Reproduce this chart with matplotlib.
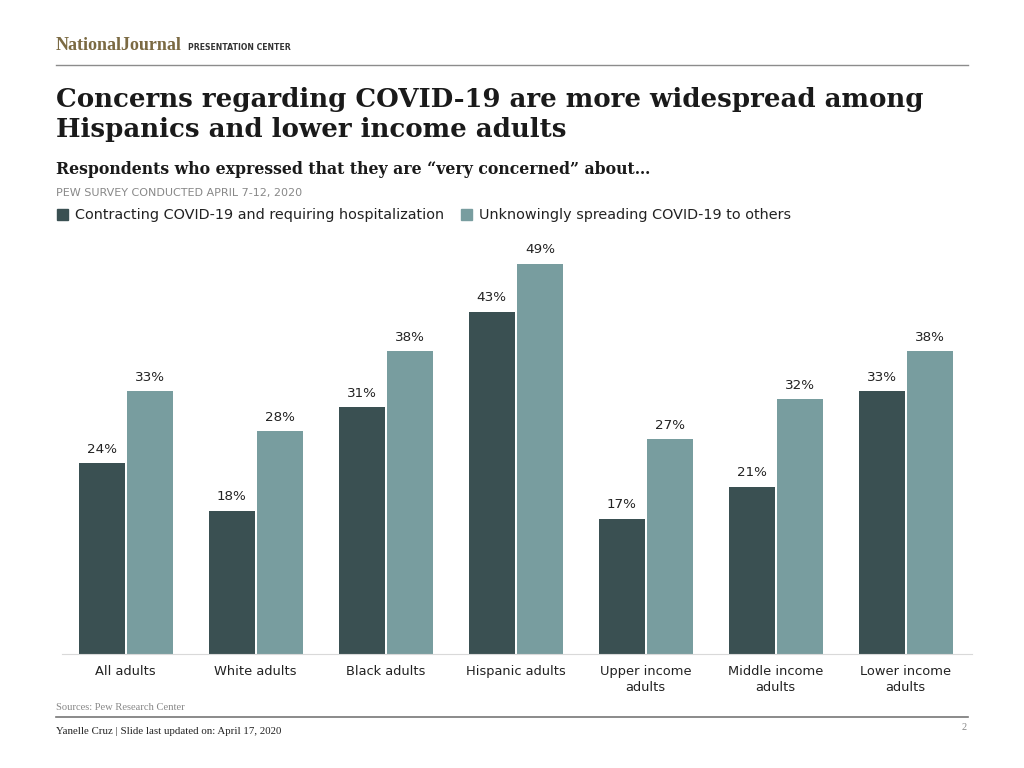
import matplotlib.pyplot as plt
import numpy as np

categories = ["All adults", "White adults", "Black adults", "Hispanic adults",
              "Upper income\nadults", "Middle income\nadults", "Lower income\nadults"]
hospitalization = [24, 18, 31, 43, 17, 21, 33]
spreading = [33, 28, 38, 49, 27, 32, 38]
series_names = ["Contracting COVID-19 and requiring hospitalization",
                "Unknowingly spreading COVID-19 to others"]

dark = "#3a5052"
light = "#789d9f"
serif = "DejaVu Serif"
narrow_serif = "Liberation Serif"

fig = plt.figure(figsize=(10.24, 7.68), dpi=100)

# header
fig.text(56 / 1024, 1 - 45 / 768, "NationalJournal", fontsize=13, fontweight="bold",
         family=narrow_serif, color="#7b6a43", va="center")
fig.text(188 / 1024, 1 - 48 / 768, "PRESENTATION CENTER", fontsize=5.6, fontweight="bold",
         color="#333333", va="center")
fig.add_artist(plt.Line2D([56 / 1024, 968 / 1024], [1 - 65 / 768] * 2, color="#8c8c8c", lw=1))

fig.text(56 / 1024, 1 - 100 / 768, "Concerns regarding COVID-19 are more widespread among",
         fontsize=18.7, fontweight="bold", family=serif, color="#1a1a1a", va="center")
fig.text(56 / 1024, 1 - 130 / 768, "Hispanics and lower income adults",
         fontsize=18.7, fontweight="bold", family=serif, color="#1a1a1a", va="center")
fig.text(56 / 1024, 1 - 170 / 768,
         "Respondents who expressed that they are \u201cvery concerned\u201d about\u2026",
         fontsize=11.3, fontweight="bold", family=serif, color="#1a1a1a", va="center")
fig.text(56 / 1024, 1 - 193 / 768, "PEW SURVEY CONDUCTED APRIL 7-12, 2020",
         fontsize=8, color="#888888", va="center")

# legend
for x0, name, col in [(57, series_names[0], dark), (461, series_names[1], light)]:
    fig.add_artist(plt.Rectangle((x0 / 1024, 1 - 220 / 768), 11 / 1024, 11 / 768,
                                 color=col, transform=fig.transFigure))
    fig.text((x0 + 18) / 1024, 1 - 215 / 768, name, fontsize=10.4, color="#222222",
             va="center")

# chart
ax = fig.add_axes([62 / 1024, 1 - 654 / 768, 910 / 1024, 414 / 768])
x = np.arange(len(categories))
w = 0.355
b1 = ax.bar(x - w / 2 - 0.008, hospitalization, w, color=dark)
b2 = ax.bar(x + w / 2 + 0.008, spreading, w, color=light)
for bars, vals in [(b1, hospitalization), (b2, spreading)]:
    for r, v in zip(bars, vals):
        ax.annotate(f"{v}%", (r.get_x() + r.get_width() / 2, v), xytext=(0, 10),
                    textcoords="offset points", ha="center", va="center",
                    fontsize=9.7, color="#222222")

ax.set_xlim(-0.49, 6.51)
ax.set_ylim(0, 52)
ax.set_xticks(x)
ax.set_xticklabels(categories, fontsize=9.4, color="#222222", linespacing=1.25)
ax.tick_params(axis="x", length=0, pad=8)
ax.set_yticks([])
for s in ["top", "right", "left"]:
    ax.spines[s].set_visible(False)
ax.spines["bottom"].set_color("#d9d9d9")

# footer
fig.text(56 / 1024, 1 - 708 / 768, "Sources: Pew Research Center", fontsize=7.6,
         family=narrow_serif, color="#888888", va="center")
fig.add_artist(plt.Line2D([56 / 1024, 968 / 1024], [1 - 717 / 768] * 2, color="#777777", lw=1.2))
fig.text(56 / 1024, 1 - 732 / 768, "Yanelle Cruz | Slide last updated on: April 17, 2020",
         fontsize=7.8, family=narrow_serif, color="#222222", va="center")
fig.text(967 / 1024, 1 - 727 / 768, "2", fontsize=7.5, family=narrow_serif, color="#888888",
         va="center", ha="right")

fig.savefig("out.png", dpi=100)
